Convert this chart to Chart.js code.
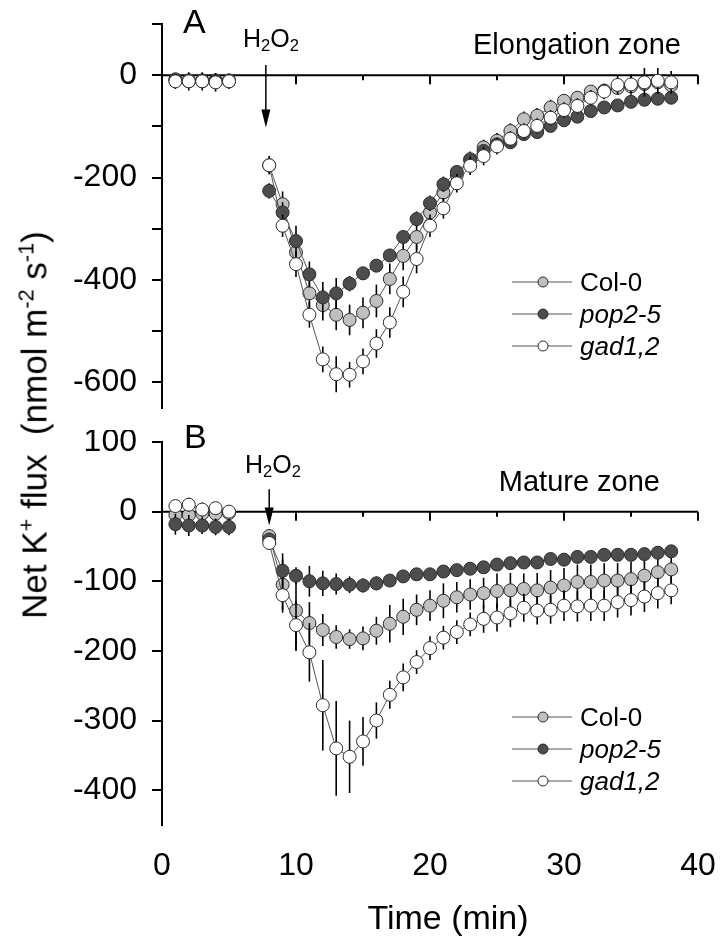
<!DOCTYPE html>
<html><head><meta charset="utf-8">
<script src="https://cdn.jsdelivr.net/npm/chart.js@4"></script>
<style>
body{margin:0;background:#fff;width:720px;height:937px;position:relative;overflow:hidden;font-family:"Liberation Sans",Arial,sans-serif;color:#000}
canvas{position:absolute;left:0}
.t{position:absolute;white-space:nowrap;line-height:1}
.t sub{font-size:66%;vertical-align:-0.25em;line-height:0}
.t sup{font-size:62%;vertical-align:0.6em;line-height:0}
.leg{position:absolute;left:510px;font-size:26px;line-height:1}
.leg div{height:32px;display:flex;align-items:center}
.leg svg{margin-right:6px}
</style></head><body>
<canvas id="cA" width="720" height="430" style="top:0"></canvas>
<canvas id="cB" width="720" height="507" style="top:430px"></canvas>

<div class="t" style="left:183px;top:4px;font-size:34px">A</div>
<div class="t" style="left:184px;top:419px;font-size:34px">B</div>
<div class="t" style="left:243px;top:26px;font-size:25px">H<sub>2</sub>O<sub>2</sub></div>
<div class="t" style="left:245px;top:452px;font-size:25px">H<sub>2</sub>O<sub>2</sub></div>
<div class="t" style="right:39px;top:30px;font-size:29px">Elongation zone</div>
<div class="t" style="right:60px;top:467px;font-size:29px">Mature zone</div>
<div class="t" style="left:448px;top:917px;font-size:34px;transform:translate(-50%,-50%)">Time (min)</div>
<div class="t" style="left:34px;top:425px;font-size:35px;transform:translate(-50%,-50%) rotate(-90deg)">Net K<sup>+</sup> flux&nbsp; (nmol m<sup>-2</sup> s<sup>-1</sup>)</div>

<div class="leg" id="legA" style="top:266px"></div>
<div class="leg" id="legB" style="top:701px"></div>

<script>
// ---------------- data ----------------
const seriesNames = ['Col-0', 'pop2-5', 'gad1,2'];
const timePre = [1, 2, 3, 4, 5];
const timePost = [8, 9, 10, 11, 12, 13, 14, 15, 16, 17, 18, 19, 20, 21, 22, 23, 24, 25, 26, 27, 28, 29, 30, 31, 32, 33, 34, 35, 36, 37, 38];
const xTicks = [0, 10, 20, 30, 40];
const xMinorTicks = [5, 15, 25, 35];
const yTicksA = [100, 0, -100, -200, -300, -400, -500, -600];
const yLabelsA = [0, -200, -400, -600];
const yTicksB = [100, 0, -100, -200, -300, -400];
const h2o2TimeA = 7.75;
const h2o2TimeB = 8.0;

// Panel A: elongation zone
const colA_pre = [-8, -10, -10, -10, -10];
const colA_post = [-176, -252, -346, -426, -449, -468, -478, -464, -441, -398, -353, -316, -268, -229, -195, -164, -141, -128, -109, -86, -79, -63, -50, -44, -32, -30, -25, -22, -17, -14, -20];
const colA_err_pre = [12, 10, 10, 10, 10];
const colA_err_post = [15, 25, 30, 30, 30, 30, 30, 30, 32, 30, 28, 25, 20, 18, 15, 15, 15, 15, 15, 15, 15, 15, 12, 12, 12, 12, 12, 12, 12, 12, 12];
const popA_pre = [-10, -12, -12, -12, -12];
const popA_post = [-226, -268, -324, -389, -434, -426, -407, -387, -372, -352, -316, -281, -250, -213, -189, -166, -148, -135, -131, -115, -111, -99, -88, -81, -70, -63, -59, -52, -48, -46, -44];
const popA_err_pre = [10, 10, 10, 10, 10];
const popA_err_post = [15, 20, 30, 25, 30, 30, 15, 12, 12, 12, 12, 15, 15, 15, 12, 12, 12, 10, 10, 10, 10, 10, 10, 10, 10, 10, 10, 10, 10, 10, 10];
const gadA_pre = [-12, -12, -12, -14, -12];
const gadA_post = [-176, -294, -369, -468, -555, -584, -585, -559, -524, -483, -423, -359, -294, -260, -211, -177, -158, -139, -124, -109, -99, -83, -68, -60, -44, -32, -19, -18, -14, -11, -14];
const gadA_err_pre = [15, 18, 18, 18, 15];
const gadA_err_post = [18, 22, 25, 25, 25, 35, 25, 25, 28, 30, 30, 28, 22, 20, 18, 18, 18, 16, 15, 15, 15, 15, 15, 15, 15, 15, 18, 20, 28, 25, 22];

// Panel B: mature zone
const colB_pre = [-5, -5, -3, -3, -2];
const colB_post = [-35, -105, -142, -160, -170, -180, -183, -182, -171, -161, -151, -141, -135, -128, -123, -119, -117, -114, -113, -111, -113, -109, -106, -101, -101, -99, -99, -97, -92, -87, -83];
const colB_err_pre = [8, 8, 8, 8, 8];
const colB_err_post = [10, 36, 58, 30, 23, 17, 14, 17, 20, 27, 26, 22, 22, 25, 22, 22, 22, 25, 25, 22, 25, 25, 25, 25, 25, 25, 25, 25, 22, 22, 20];
const popB_pre = [-18, -20, -20, -22, -22];
const popB_post = [-40, -85, -92, -100, -103, -104, -105, -106, -103, -99, -93, -90, -90, -86, -84, -82, -80, -76, -74, -73, -73, -68, -69, -65, -65, -62, -62, -62, -61, -59, -57];
const popB_err_pre = [15, 15, 12, 12, 12];
const popB_err_post = [8, 25, 12, 22, 18, 15, 12, 10, 10, 8, 8, 6, 5, 5, 5, 5, 5, 5, 5, 5, 5, 5, 5, 5, 5, 5, 5, 5, 5, 5, 5];
const gadB_pre = [8, 10, 3, 5, 0];
const gadB_post = [-45, -120, -163, -202, -278, -340, -352, -330, -300, -263, -238, -216, -196, -181, -173, -162, -154, -152, -146, -138, -142, -141, -135, -136, -135, -135, -130, -127, -122, -117, -113];
const gadB_err_pre = [8, 10, 10, 8, 8];
const gadB_err_post = [10, 25, 35, 42, 65, 68, 52, 35, 26, 20, 20, 17, 17, 17, 17, 17, 20, 20, 20, 20, 20, 20, 22, 22, 22, 22, 22, 22, 22, 22, 20];

// ---------------- styles ----------------
const fills = ['#c0c0c0', '#4d4d4d', '#ffffff'];
const edge = '#2b2b2b';
const lineCol = '#555555';

function build(pre, post) {
  return pre.map((v, i) => ({x: timePre[i], y: v}))
    .concat([{x: 6.5, y: null}])
    .concat(post.map((v, i) => ({x: timePost[i], y: v})));
}
function buildErr(pre, post) { return pre.concat([null]).concat(post); }

function datasets(vals, errs) {
  return vals.map((v, k) => ({
    label: seriesNames[k],
    data: build(v[0], v[1]),
    errors: buildErr(errs[k][0], errs[k][1]),
    borderColor: lineCol,
    borderWidth: 1,
    pointRadius: 6.5,
    pointBackgroundColor: fills[k],
    pointBorderColor: edge,
    pointBorderWidth: 1,
    order: 3 - k,
    spanGaps: false,
    tension: 0,
    clip: false
  }));
}

const errorBars = {
  id: 'errorBars',
  beforeDatasetDraw(chart, args) {
    const ds = chart.data.datasets[args.index];
    const ys = chart.scales.y, ctx = chart.ctx;
    ctx.save();
    ctx.strokeStyle = '#000';
    ctx.lineWidth = 1.6;
    args.meta.data.forEach((pt, i) => {
      const v = ds.data[i].y, e = ds.errors[i];
      if (v == null || e == null) return;
      ctx.beginPath();
      ctx.moveTo(pt.x, ys.getPixelForValue(v + e));
      ctx.lineTo(pt.x, ys.getPixelForValue(v - e));
      ctx.stroke();
    });
    ctx.restore();
  }
};

const zeroAxis = {
  id: 'zeroAxis',
  beforeDatasetsDraw(chart, args, opts) {
    const xs = chart.scales.x, ys = chart.scales.y, ctx = chart.ctx;
    const y0 = ys.getPixelForValue(0);
    ctx.save();
    ctx.strokeStyle = '#000';
    ctx.lineWidth = 2;
    ctx.beginPath();
    ctx.moveTo(xs.getPixelForValue(0), y0);
    ctx.lineTo(xs.getPixelForValue(40), y0);
    ctx.stroke();
    xTicks.slice(1).forEach(t => {
      const px = xs.getPixelForValue(t);
      ctx.beginPath(); ctx.moveTo(px, y0); ctx.lineTo(px, y0 + 9); ctx.stroke();
    });
    xMinorTicks.forEach(t => {
      const px = xs.getPixelForValue(t);
      ctx.beginPath(); ctx.moveTo(px, y0); ctx.lineTo(px, y0 + 5); ctx.stroke();
    });
    // H2O2 arrow
    const ax = xs.getPixelForValue(opts.time);
    const yTop = ys.getPixelForValue(opts.arrowFrom), yTip = ys.getPixelForValue(opts.arrowTo);
    ctx.lineWidth = 1.5;
    ctx.beginPath(); ctx.moveTo(ax, yTop); ctx.lineTo(ax, yTip - 12); ctx.stroke();
    ctx.fillStyle = '#000';
    ctx.beginPath(); ctx.moveTo(ax - 4.5, yTip - 18); ctx.lineTo(ax + 4.5, yTip - 18); ctx.lineTo(ax, yTip); ctx.closePath(); ctx.fill();
    ctx.restore();
  }
};

function makeChart(id, vals, errs, yMin, yMax, yTicks, yLabels, padTop, chartBottom, canvasH, showX, arrow) {
  return new Chart(document.getElementById(id), {
    type: 'line',
    data: {datasets: datasets(vals, errs)},
    options: {
      responsive: false, animation: false, devicePixelRatio: 1,
      layout: {padding: {left: 0, right: 22, top: padTop, bottom: showX ? 0 : canvasH - chartBottom}},
      plugins: {legend: {display: false}, tooltip: {enabled: false}, zeroAxis: arrow},
      scales: {
        x: {
          type: 'linear', min: 0, max: 40, display: showX,
          afterBuildTicks(s) { s.ticks = xTicks.map(v => ({value: v})); },
          afterFit(s) {
            s.height = showX ? canvasH - chartBottom : 0;
            s.paddingLeft = 0; s.paddingRight = 0;
          },
          grid: {display: false, drawTicks: false},
          border: {display: false},
          ticks: {color: '#000', padding: 22, font: {family: 'Liberation Sans', size: 32}, maxRotation: 0, autoSkip: false}
        },
        y: {
          min: yMin, max: yMax,
          afterBuildTicks(s) { s.ticks = yTicks.map(v => ({value: v})); },
          afterFit(s) { s.width = 162; s.paddingTop = 0; s.paddingBottom = 0; },
          grid: {drawOnChartArea: false, drawTicks: true, tickLength: 10, color: '#000', lineWidth: 2},
          border: {display: true, color: '#000', width: 2},
          ticks: {
            color: '#000', padding: 15, font: {family: 'Liberation Sans', size: 32},
            callback: v => yLabels.includes(v) ? String(v) : ''
          }
        }
      }
    },
    plugins: [errorBars, zeroAxis]
  });
}

makeChart('cA',
  [[colA_pre, colA_post], [popA_pre, popA_post], [gadA_pre, gadA_post]],
  [[colA_err_pre, colA_err_post], [popA_err_pre, popA_err_post], [gadA_err_pre, gadA_err_post]],
  -650, 100, yTicksA, yLabelsA, 24, 408, 430, false, {time: h2o2TimeA, arrowFrom: 20, arrowTo: -102});

makeChart('cB',
  [[colB_pre, colB_post], [popB_pre, popB_post], [gadB_pre, gadB_post]],
  [[colB_err_pre, colB_err_post], [popB_err_pre, popB_err_post], [gadB_err_pre, gadB_err_post]],
  -450, 100, yTicksB, yTicksB, 12, 395, 507, true, {time: h2o2TimeB, arrowFrom: 32, arrowTo: -20});

// legends
function legend(id) {
  const el = document.getElementById(id);
  seriesNames.forEach((n, k) => {
    const row = document.createElement('div');
    row.innerHTML = '<svg width="64" height="14"><line x1="2" y1="7" x2="62" y2="7" stroke="' + lineCol + '" stroke-width="1"/>' +
      '<circle cx="33" cy="7" r="5" fill="' + fills[k] + '" stroke="' + edge + '" stroke-width="1"/></svg>' +
      '<span style="font-style:' + (k === 0 ? 'normal' : 'italic') + '">' + n + '</span>';
    el.appendChild(row);
  });
}
legend('legA'); legend('legB');
</script>
</body></html>
